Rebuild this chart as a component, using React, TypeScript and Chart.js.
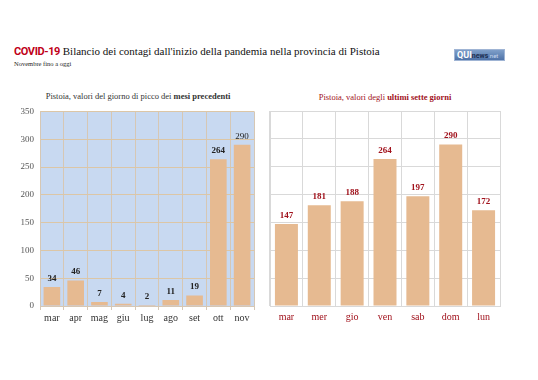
import React, { useEffect, useRef } from "react";
import { Chart, registerables } from "chart.js";

Chart.register(...registerables);

const monthLabels = ["mar", "apr", "mag", "giu", "lug", "ago", "set", "ott", "nov"];
const monthValues = [34, 46, 7, 4, 2, 11, 19, 264, 290];
const dayLabels = ["mar", "mer", "gio", "ven", "sab", "dom", "lun"];
const dayValues = [147, 181, 188, 264, 197, 290, 172];
const yTicks = [0, 50, 100, 150, 200, 250, 300, 350];

const BAR = "#e6ba91";
const RED = "#a1121c";

const bgPlugin = (color: string) => ({
  id: "bgFill",
  beforeDraw(chart: any) {
    const { ctx, chartArea } = chart;
    ctx.save();
    ctx.fillStyle = color;
    ctx.fillRect(chartArea.left, chartArea.top, chartArea.right - chartArea.left, chartArea.bottom - chartArea.top);
    ctx.restore();
  },
});

const labelPlugin = (color: string, boldFn: (i: number) => boolean) => ({
  id: "valLabels",
  afterDatasetsDraw(chart: any) {
    const { ctx } = chart;
    const meta = chart.getDatasetMeta(0);
    const data = chart.data.datasets[0].data as number[];
    ctx.save();
    ctx.fillStyle = color;
    ctx.textAlign = "center";
    ctx.textBaseline = "bottom";
    meta.data.forEach((bar: any, i: number) => {
      ctx.font = (boldFn(i) ? "bold " : "") + "9px 'Liberation Serif', serif";
      ctx.fillText(String(data[i]), bar.x, bar.y - 4);
    });
    ctx.restore();
  },
});

function BarChart(props: {
  labels: string[];
  values: number[];
  style: React.CSSProperties;
  left: boolean;
}) {
  const ref = useRef<HTMLCanvasElement>(null);
  useEffect(() => {
    const left = props.left;
    const chart = new Chart(ref.current!, {
      type: "bar",
      data: {
        labels: props.labels,
        datasets: [
          {
            data: props.values,
            backgroundColor: BAR,
            barPercentage: 0.7,
            categoryPercentage: 1,
          },
        ],
      },
      options: {
        animation: false,
        responsive: false,
        maintainAspectRatio: false,
        layout: { padding: { top: left ? 0 : 5, right: left ? 8 : 10, bottom: 0, left: 0 } },
        plugins: { legend: { display: false }, tooltip: { enabled: false } },
        scales: {
          x: {
            grid: {
              offset: true,
              color: left ? "#d6c7b4" : "#d9d9d9",
              drawTicks: left,
              tickLength: 4,
            },
            border: { color: left ? "#d6c7b4" : "#d9d9d9" },
            ticks: {
              padding: left ? 2 : 5,
              color: left ? "#333333" : RED,
              font: { family: "'Liberation Serif', serif", size: 10 },
            },
            afterFit(scale: any) {
              scale.height = 24;
            },
          },
          y: {
            min: 0,
            max: 350,
            afterBuildTicks(scale: any) {
              scale.ticks = yTicks.map((v) => ({ value: v }));
            },
            grid: { color: left ? "#dcc6a6" : "#d9d9d9", drawTicks: false },
            border: { color: left ? "#d6c7b4" : "#d9d9d9" },
            ticks: {
              display: left,
              padding: 6,
              color: "#555555",
              font: { family: "'Liberation Serif', serif", size: 9 },
            },
            afterFit(scale: any) {
              scale.width = left ? 40 : 8;
            },
          },
        },
      },
      plugins: [
        ...(left ? [bgPlugin("#c8d9f1")] : []),
        labelPlugin(left ? "#222222" : RED, (i) => !(left && i === props.values.length - 1)),
      ],
    } as any);
    return () => chart.destroy();
  }, []);
  return <canvas ref={ref} width={props.style.width as number} height={props.style.height as number} style={props.style} />;
}

export default function App() {
  const serif = "'Liberation Serif', serif";
  return (
    <div style={{ position: "fixed", left: 0, top: 0, width: 538, height: 380, background: "#ffffff", fontFamily: serif }}>
      <div style={{ position: "absolute", left: 14, top: 45, whiteSpace: "nowrap", fontSize: 11, lineHeight: "13px" }}>
        <span style={{ fontFamily: "Roboto, sans-serif", fontWeight: 700, color: "#c00018", letterSpacing: -0.4 }}>COVID-19</span>
        <span style={{ color: "#111" }}> Bilancio dei contagi dall'inizio della pandemia nella provincia di Pistoia</span>
      </div>
      <div style={{ position: "absolute", left: 14, top: 60, fontSize: 6.5, color: "#222", whiteSpace: "nowrap" }}>
        Novembre fino a oggi
      </div>
      <div
        style={{
          position: "absolute",
          left: 454,
          top: 49,
          width: 51,
          height: 12,
          background: "linear-gradient(#7f9fc9, #4f73a8)",
          border: "1px solid #9fb4d4",
          boxSizing: "border-box",
          fontFamily: "Roboto, sans-serif",
          fontSize: 9,
          lineHeight: "10px",
          color: "#fff",
          whiteSpace: "nowrap",
          paddingLeft: 2,
          overflow: "hidden",
        }}
      >
        <b>QUI</b>
        <span style={{ fontSize: 7, color: "#1d2f52", fontWeight: 700 }}>news</span>
        <span style={{ fontSize: 6, color: "#c9d8ee" }}>.net</span>
      </div>
      <div style={{ position: "absolute", left: 0, width: 276, top: 91, textAlign: "center", fontSize: 8.5, color: "#333", whiteSpace: "nowrap" }}>
        Pistoia, valori del giorno di picco dei <b>mesi precedenti</b>
      </div>
      <div style={{ position: "absolute", left: 270, width: 230, top: 92, textAlign: "center", fontSize: 8.5, color: RED, whiteSpace: "nowrap" }}>
        Pistoia, valori degli <b>ultimi sette giorni</b>
      </div>
      <BarChart labels={monthLabels} values={monthValues} left={true} style={{ position: "absolute", left: 0, top: 100, width: 262, height: 230 }} />
      <BarChart labels={dayLabels} values={dayValues} left={false} style={{ position: "absolute", left: 262, top: 106, width: 248, height: 224 }} />
    </div>
  );
}
